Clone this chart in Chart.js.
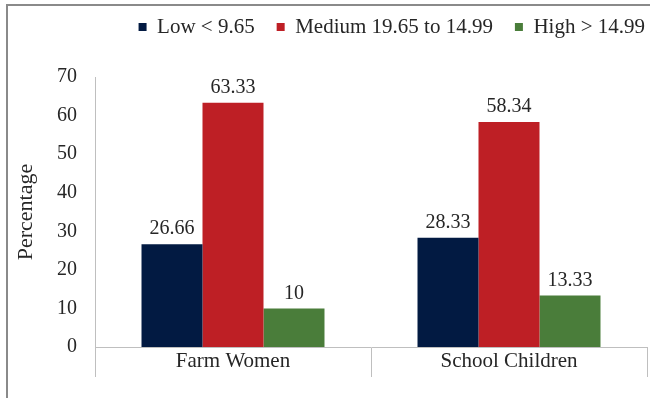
<!DOCTYPE html>
<html>
<head>
<meta charset="utf-8">
<script src="https://cdn.jsdelivr.net/npm/chart.js@4/dist/chart.umd.min.js"></script>
<style>
  html, body { margin: 0; padding: 0; background: #fff; }
  #wrap { width: 650px; height: 398px; position: relative; }
</style>
</head>
<body>
<div id="wrap"><canvas id="c" width="650" height="398"></canvas></div>
<script>
const categories = ["Farm Women", "School Children"];
const seriesNames = ["Low < 9.65", "Medium 19.65 to 14.99", "High > 14.99"];
const lowValues = [26.66, 28.33];
const mediumValues = [63.33, 58.34];
const highValues = [10, 13.33];
const yTicks = [0, 10, 20, 30, 40, 50, 60, 70];
const yTitle = "Percentage";

const colors = ["#021a42", "#be1f25", "#4a7d3a"];
const FONT = "'Liberation Serif', 'Times New Roman', serif";
const TEXT = "#262626";

const frame = {
  id: 'frame',
  beforeDraw(chart) {
    const ctx = chart.ctx;
    ctx.save();
    ctx.strokeStyle = '#8a8a8a';
    ctx.lineWidth = 2;
    ctx.beginPath();
    ctx.moveTo(7, 398);
    ctx.lineTo(7, 5);
    ctx.lineTo(650, 5);
    ctx.stroke();
    ctx.restore();
  }
};

const legendShift = {
  id: 'legendShift',
  afterLayout(chart) {
    const lg = chart.legend;
    if (!lg) return;
    lg.top -= 29.5; lg.bottom -= 29.5;
    lg.left += 20; lg.right += 20;
  }
};

const valueLabels = {
  id: 'valueLabels',
  afterDatasetsDraw(chart) {
    const ctx = chart.ctx;
    ctx.save();
    ctx.font = "20px " + FONT;
    ctx.fillStyle = TEXT;
    ctx.textAlign = 'center';
    ctx.textBaseline = 'bottom';
    chart.data.datasets.forEach((ds, di) => {
      const meta = chart.getDatasetMeta(di);
      meta.data.forEach((bar, i) => {
        ctx.fillText(String(ds.data[i]), bar.x, bar.y - 5);
      });
    });
    ctx.restore();
  }
};

new Chart(document.getElementById('c'), {
  type: 'bar',
  data: {
    labels: categories,
    datasets: [
      { label: seriesNames[0], data: lowValues, backgroundColor: colors[0], borderWidth: 0 },
      { label: seriesNames[1], data: mediumValues, backgroundColor: colors[1], borderWidth: 0 },
      { label: seriesNames[2], data: highValues, backgroundColor: colors[2], borderWidth: 0 }
    ]
  },
  options: {
    responsive: false,
    animation: false,
    devicePixelRatio: 1,
    layout: { padding: { left: 0, right: 3, top: 24, bottom: 0 } },
    datasets: { bar: { categoryPercentage: 0.663, barPercentage: 1.0 } },
    plugins: {
      legend: {
        display: true,
        position: 'top',
        align: 'end',
        labels: {
          font: { family: FONT, size: 21 },
          color: TEXT,
          boxWidth: 8,
          boxHeight: 8,
          padding: 22
        }
      },
      tooltip: { enabled: false }
    },
    scales: {
      x: {
        offset: true,
        grid: {
          offset: true,
          display: true,
          drawOnChartArea: false,
          drawTicks: true,
          tickLength: 30,
          color: '#bfbfbf',
          lineWidth: 1
        },
        border: { display: true, color: '#bfbfbf', width: 1 },
        ticks: {
          font: { family: FONT, size: 21 },
          color: TEXT,
          padding: -28
        },
        afterFit(scale) { scale.height = 51; }
      },
      y: {
        min: 0,
        max: 70,
        afterBuildTicks(scale) { scale.ticks = yTicks.map(v => ({ value: v })); },
        grid: { display: false, drawTicks: false },
        border: { display: true, color: '#bfbfbf', width: 1 },
        ticks: {
          font: { family: FONT, size: 20 },
          color: TEXT,
          padding: 18
        },
        title: {
          display: true,
          text: yTitle,
          font: { family: FONT, size: 22 },
          color: TEXT,
          padding: { top: 13, bottom: 0 }
        },
        afterFit(scale) { scale.width = 95; }
      }
    }
  },
  plugins: [frame, legendShift, valueLabels]
});
</script>
</body>
</html>
